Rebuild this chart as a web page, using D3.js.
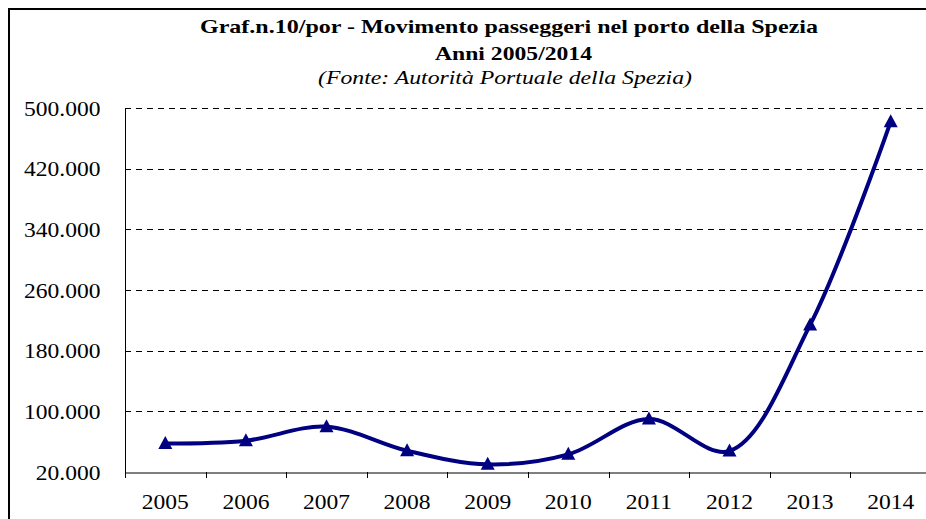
<!DOCTYPE html>
<html>
<head>
<meta charset="utf-8">
<script src="https://cdn.jsdelivr.net/npm/d3@7"></script>
<style>
  html, body { margin: 0; padding: 0; background: #fff; overflow: hidden; }
  svg { display: block; }
</style>
</head>
<body>
<svg id="chart" width="926" height="519"></svg>
<script>
// ---- data ----
const years = ["2005","2006","2007","2008","2009","2010","2011","2012","2013","2014"];
const passengers = [57600, 61300, 79800, 48100, 30100, 43300, 89900, 47700, 213900, 482000];
const yTicks = [20000, 100000, 180000, 260000, 340000, 420000, 500000];
const titleLines = [
  "Graf.n.10/por - Movimento passeggeri nel porto della Spezia",
  "Anni 2005/2014",
  "(Fonte: Autorità Portuale della Spezia)"
];

const svg = d3.select("#chart");
const W = 926, H = 519;
const plot = { left: 125, top: 108, bottom: 472, band: 80.6 };
const font = "'Liberation Serif', 'Times New Roman', serif";
const navy = "#000080";

// outer frame
svg.append("rect")
  .attr("x", 9).attr("y", 9)
  .attr("width", 1000).attr("height", 1000)
  .attr("fill", "none").attr("stroke", "#000").attr("stroke-width", 2);

// titles
const titleSpec = [
  { cx: 509, y: 33, w: 618, weight: "bold", style: "normal" },
  { cx: 513.5, y: 59.5, w: 157, weight: "bold", style: "normal" },
  { cx: 505, y: 84, w: 374, weight: "normal", style: "italic" }
];
titleLines.forEach((t, i) => {
  const s = titleSpec[i];
  svg.append("text")
    .attr("x", s.cx).attr("y", s.y)
    .attr("text-anchor", "middle")
    .attr("font-family", font).attr("font-size", 19)
    .attr("font-weight", s.weight).attr("font-style", s.style)
    .attr("textLength", s.w).attr("lengthAdjust", "spacingAndGlyphs")
    .attr("fill", "#000")
    .text(t);
});

// scales
const x = d3.scaleBand().domain(years)
  .range([plot.left, plot.left + plot.band * years.length]).padding(0);
const y = d3.scaleLinear().domain([20000, 500000]).range([plot.bottom, plot.top]);
const loc = d3.formatLocale({ decimal: ",", thousands: ".", grouping: [3], currency: ["", ""] });
const fmt = loc.format(",d");

// gridlines
svg.append("g").selectAll("line").data(yTicks.filter(v => v > 20000)).join("line")
  .attr("x1", plot.left).attr("x2", W)
  .attr("y1", d => Math.round(y(d)) + 0.5).attr("y2", d => Math.round(y(d)) + 0.5)
  .attr("stroke", "#000").attr("stroke-width", 1)
  .attr("stroke-dasharray", "6,5");

// y axis
const yAxis = svg.append("g")
  .attr("transform", `translate(${plot.left + 0.5},0)`)
  .call(d3.axisLeft(y).tickValues(yTicks).tickFormat(fmt).tickSize(0).tickPadding(25));
yAxis.select(".domain").attr("stroke", "#000").attr("d", `M0,${plot.top}V${plot.bottom + 0.5}`);
yAxis.selectAll("text")
  .attr("font-family", font).attr("font-size", 21).attr("fill", "#000")
  .attr("dy", "0.34em");

// x axis
const xAxis = svg.append("g")
  .attr("transform", `translate(0,${plot.bottom + 0.5})`)
  .call(d3.axisBottom(x).tickSize(0).tickPadding(22));
xAxis.select(".domain").attr("stroke", "#000");
xAxis.selectAll("text")
  .attr("font-family", font).attr("font-size", 21).attr("fill", "#000");
// category separators ticks
svg.append("g").selectAll("line").data(years).join("line")
  .attr("x1", d => Math.round(x(d)) + 0.5).attr("x2", d => Math.round(x(d)) + 0.5)
  .attr("y1", plot.bottom).attr("y2", plot.bottom + 6)
  .attr("stroke", "#000");

// stretch axis text horizontally
svg.selectAll(".tick text").each(function () {
  const w = this.getComputedTextLength();
  d3.select(this).attr("textLength", w * 1.12).attr("lengthAdjust", "spacingAndGlyphs");
});

// line
const cx = d => x(d) + x.bandwidth() / 2;
const line = d3.line()
  .x((d, i) => cx(years[i]))
  .y(d => y(d))
  .curve(d3.curveCatmullRom.alpha(0.5));
svg.append("path").datum(passengers)
  .attr("d", line)
  .attr("fill", "none").attr("stroke", navy).attr("stroke-width", 4)
  .attr("stroke-linejoin", "round");

// markers (isosceles triangles, ~14 wide x 13 tall)
const triPath = "M0,-7.5L7,5.5L-7,5.5Z";
svg.append("g").selectAll("path").data(passengers).join("path")
  .attr("d", triPath)
  .attr("transform", (d, i) => `translate(${cx(years[i])},${y(d)})`)
  .attr("fill", navy);
</script>
</body>
</html>
